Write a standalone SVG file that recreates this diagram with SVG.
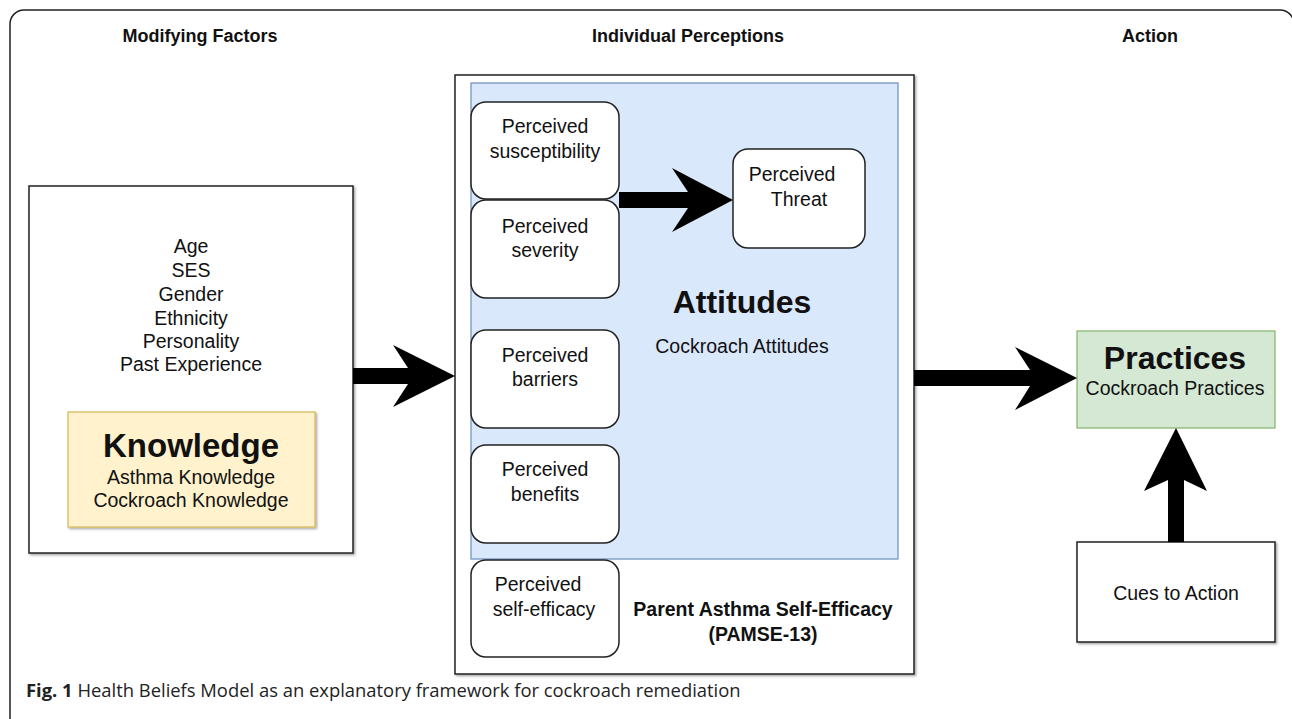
<svg xmlns="http://www.w3.org/2000/svg" width="1292" height="719" viewBox="0 0 1292 719">
<style>
.t{font-family:"Liberation Sans",Arial,sans-serif;fill:#111;text-anchor:middle}
.r{font-size:19.5px}
.b{font-weight:bold}
.h{font-size:18px;font-weight:bold}
.box{fill:#fff;stroke:#222;stroke-width:1.5}
.rb{fill:#fff;stroke:#222;stroke-width:1.5}
.cap{font-family:"Open Sans","Noto Sans",sans-serif;font-size:18.4px;fill:#222}
.arr{fill:#000}
</style>
<defs>
<filter id="sh" x="-5%" y="-5%" width="110%" height="110%">
<feDropShadow dx="1.5" dy="1.5" stdDeviation="1" flood-color="#000" flood-opacity="0.35"/>
</filter>
</defs>
<rect x="0" y="0" width="1292" height="719" fill="#fff"/>
<rect x="10" y="10" width="1284" height="722" rx="14" fill="none" stroke="#222" stroke-width="1.5"/>

<text class="t h" x="200" y="42">Modifying Factors</text>
<text class="t h" x="688" y="42">Individual Perceptions</text>
<text class="t h" x="1150" y="42">Action</text>

<g id="modifying-factors">
<rect class="box" x="29" y="186" width="324" height="367" filter="url(#sh)"/>
<text class="t r" x="191" y="253">Age</text>
<text class="t r" x="191" y="277">SES</text>
<text class="t r" x="191" y="301">Gender</text>
<text class="t r" x="191" y="325">Ethnicity</text>
<text class="t r" x="191" y="348">Personality</text>
<text class="t r" x="191" y="371">Past Experience</text>
</g>
<g id="knowledge">
<rect x="68" y="412" width="247" height="115" fill="#fff2cc" stroke="#d6b656" stroke-width="1.2" filter="url(#sh)"/>
<text class="t b" x="191" y="457" font-size="33">Knowledge</text>
<text class="t r" x="191" y="484">Asthma Knowledge</text>
<text class="t r" x="191" y="507">Cockroach Knowledge</text>
</g>

<g id="individual-perceptions">
<rect class="box" x="455" y="75" width="459" height="599" filter="url(#sh)"/>
<text class="t r b" x="763" y="616" font-size="19">Parent Asthma Self-Efficacy</text>
<text class="t r b" x="763" y="641" font-size="19">(PAMSE-13)</text>
</g>
<g id="attitudes">
<rect x="471" y="83" width="427" height="476" fill="#dae8fc" stroke="#6c8ebf" stroke-width="1.2"/>
<text class="t b" x="742" y="313" font-size="32">Attitudes</text>
<text class="t r" x="742" y="353">Cockroach Attitudes</text>
</g>
<g id="perceived-susceptibility">
<rect class="rb" x="471" y="102" width="148" height="97" rx="15"/>
<text class="t r" x="545" y="133">Perceived</text>
<text class="t r" x="545" y="158">susceptibility</text>
</g>
<g id="perceived-severity">
<rect class="rb" x="471" y="200" width="148" height="98" rx="15"/>
<text class="t r" x="545" y="233">Perceived</text>
<text class="t r" x="545" y="257">severity</text>
</g>
<g id="perceived-barriers">
<rect class="rb" x="471" y="330" width="148" height="98" rx="15"/>
<text class="t r" x="545" y="362">Perceived</text>
<text class="t r" x="545" y="386">barriers</text>
</g>
<g id="perceived-benefits">
<rect class="rb" x="471" y="445" width="148" height="98" rx="15"/>
<text class="t r" x="545" y="476">Perceived</text>
<text class="t r" x="545" y="501">benefits</text>
</g>
<g id="perceived-self-efficacy">
<rect class="rb" x="471" y="560" width="148" height="97" rx="15"/>
<text class="t r" x="538" y="591">Perceived</text>
<text class="t r" x="544" y="616">self-efficacy</text>
</g>
<g id="perceived-threat">
<rect class="rb" x="733" y="149" width="132" height="99" rx="15"/>
<text class="t r" x="792" y="181">Perceived</text>
<text class="t r" x="799" y="206">Threat</text>
</g>

<g id="practices">
<rect x="1077" y="331" width="198" height="97" fill="#d5e8d4" stroke="#82b366" stroke-width="1.2"/>
<text class="t b" x="1175" y="369" font-size="32">Practices</text>
<text class="t r" x="1175" y="395">Cockroach Practices</text>
</g>
<g id="cues-to-action">
<rect class="box" x="1077" y="542" width="198" height="100" filter="url(#sh)"/>
<text class="t r" x="1176" y="600">Cues to Action</text>
</g>

<g id="connectors">
<path class="arr" d="M353 368 H408 L393 345 L455 376 L393 407 L408 384 H353 Z"/>
<path class="arr" d="M619 192 H688 L672 168 L733 200 L672 232 L688 208 H619 Z"/>
<path class="arr" d="M914 370 H1030 L1015 347 L1077 378 L1015 410 L1030 386 H914 Z"/>
<path class="arr" d="M1168 542 V480 L1144 491 L1176 428 L1207 491 L1184 480 V542 Z"/>
</g>

<text class="cap" x="26" y="697"><tspan font-weight="bold">Fig. 1</tspan> Health Beliefs Model as an explanatory framework for cockroach remediation</text>
</svg>
